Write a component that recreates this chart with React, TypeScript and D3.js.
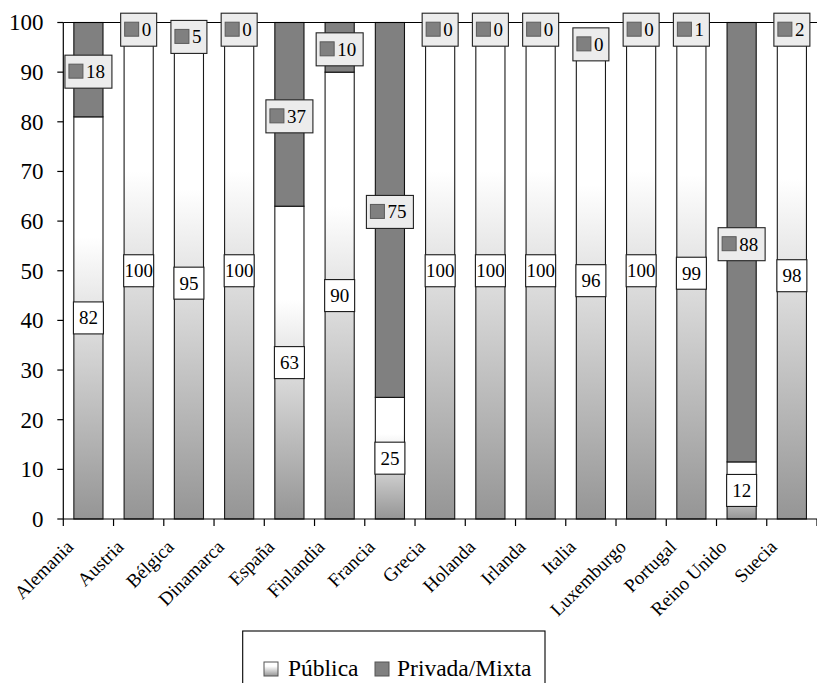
import React from "react";
import * as d3 from "d3";

const categories = ["Alemania", "Austria", "Bélgica", "Dinamarca", "España", "Finlandia", "Francia", "Grecia", "Holanda", "Irlanda", "Italia", "Luxemburgo", "Portugal", "Reino Unido", "Suecia"];
const publicaValues = [81, 100, 95, 100, 63, 90, 24.5, 100, 100, 100, 96, 100, 99, 11.5, 98];
const privadaValues = [19, 0, 5, 0, 37, 10, 75.5, 0, 0, 0, 0, 0, 1, 88.5, 2];
const publicaLabels = [82, 100, 95, 100, 63, 90, 25, 100, 100, 100, 96, 100, 99, 12, 98];
const privadaLabels = [18, 0, 5, 0, 37, 10, 75, 0, 0, 0, 0, 0, 1, 88, 2];
const yTicks = [0, 10, 20, 30, 40, 50, 60, 70, 80, 90, 100];
const legendLabels = ["Pública", "Privada/Mixta"];

const W = 817;
const H = 683;
const left = 63.3;
const right = 817;
const top = 22.5;
const bottom = 519;
const serif = "'Liberation Serif', 'Times New Roman', serif";

export default function App() {
  const x = d3.scaleBand<string>().domain(categories).range([left, right]).paddingInner(0.42).paddingOuter(0.21);
  const y = d3.scaleLinear().domain([0, 100]).range([bottom, top]);
  const band = (right - left) / categories.length;
  const bw = x.bandwidth();

  return (
    <div style={{ position: "absolute", left: 0, top: 0 }}>
      <svg width={W} height={H} style={{ display: "block", fontFamily: serif }}>
        <defs>
          <linearGradient id="pubGrad" x1="0" y1="1" x2="0" y2="0">
            <stop offset="0" stopColor="#959595" />
            <stop offset="0.7" stopColor="#ffffff" />
            <stop offset="1" stopColor="#ffffff" />
          </linearGradient>
        </defs>
        <rect x={0} y={0} width={W} height={H} fill="#fff" />

        {/* bars */}
        {categories.map((c, i) => {
          const x0 = x(c)!;
          const p = publicaValues[i];
          const q = privadaValues[i];
          return (
            <g key={c}>
              {p > 0 && (
                <rect x={x0} y={y(p)} width={bw} height={y(0) - y(p)} fill="url(#pubGrad)" stroke="#1a1a1a" strokeWidth={1.1} />
              )}
              {q > 0 && (
                <rect x={x0} y={y(p + q)} width={bw} height={y(p) - y(p + q)} fill="#808080" stroke="#111" strokeWidth={1.1} />
              )}
            </g>
          );
        })}

        {/* axes */}
        <line x1={left} x2={left} y1={top} y2={bottom} stroke="#000" strokeWidth={1.2} />
        <line x1={left} x2={right} y1={bottom} y2={bottom} stroke="#000" strokeWidth={1.2} />
        <line x1={left} x2={right} y1={y(100)} y2={y(100)} stroke="#000" strokeWidth={1.2} />
        {yTicks.map((t) => (
          <g key={t}>
            <line x1={left - 6} x2={left} y1={y(t)} y2={y(t)} stroke="#000" strokeWidth={1.2} />
            <text x={43.5} y={y(t) + 7.8} textAnchor="end" fontSize={23} fill="#000">{t}</text>
          </g>
        ))}
        {d3.range(categories.length + 1).map((k) => (
          <line key={k} x1={left + k * band} x2={left + k * band} y1={bottom} y2={bottom + 7} stroke="#000" strokeWidth={1.2} />
        ))}
        {categories.map((c) => {
          const cx = x(c)! + bw / 2 - 14;
          const cy = 548;
          return (
            <text key={c} x={cx} y={cy} transform={`rotate(-45 ${cx} ${cy})`} textAnchor="end" fontSize={19} fill="#000">{c}</text>
          );
        })}

        {/* publica labels */}
        {categories.map((c, i) => {
          const cx = x(c)! + bw / 2;
          const cy = y(publicaValues[i] / 2);
          return (
            <g key={c}>
              <rect x={cx - 15} y={cy - 16} width={30} height={32} fill="#fff" stroke="#1a1a1a" strokeWidth={1.1} />
              <text x={cx} y={cy + 6.5} textAnchor="middle" fontSize={19} fill="#000">{publicaLabels[i]}</text>
            </g>
          );
        })}

        {/* privada labels */}
        {categories.map((c, i) => {
          const cx = x(c)! + bw / 2;
          const mid = publicaValues[i] + privadaValues[i] / 2;
          const cy = Math.max(y(mid) + 2, y(100) + 7.2);
          const txt = String(privadaLabels[i]);
          const w = 25 + 11 * txt.length;
          const bx = cx - w / 2;
          return (
            <g key={c}>
              <rect x={bx} y={cy - 16.5} width={w} height={33} fill="#ececec" stroke="#222" strokeWidth={1.1} />
              <rect x={bx + 4} y={cy - 7.5} width={14} height={14} fill="#808080" stroke="#5a5a5a" strokeWidth={1} />
              <text x={bx + 21} y={cy + 6.5} fontSize={19} fill="#000">{txt}</text>
            </g>
          );
        })}

        {/* legend */}
        <rect x={242.7} y={631} width={302.3} height={80} fill="#fff" stroke="#000" strokeWidth={1.1} />
        <rect x={264} y={662} width={14} height={14} fill="url(#pubGrad)" stroke="#555" strokeWidth={1} />
        <text x={288} y={676} fontSize={23.5} fill="#000">{legendLabels[0]}</text>
        <rect x={375} y={662} width={14} height={14} fill="#808080" stroke="#555" strokeWidth={1} />
        <text x={397} y={676} fontSize={23.5} fill="#000">{legendLabels[1]}</text>
      </svg>
    </div>
  );
}
